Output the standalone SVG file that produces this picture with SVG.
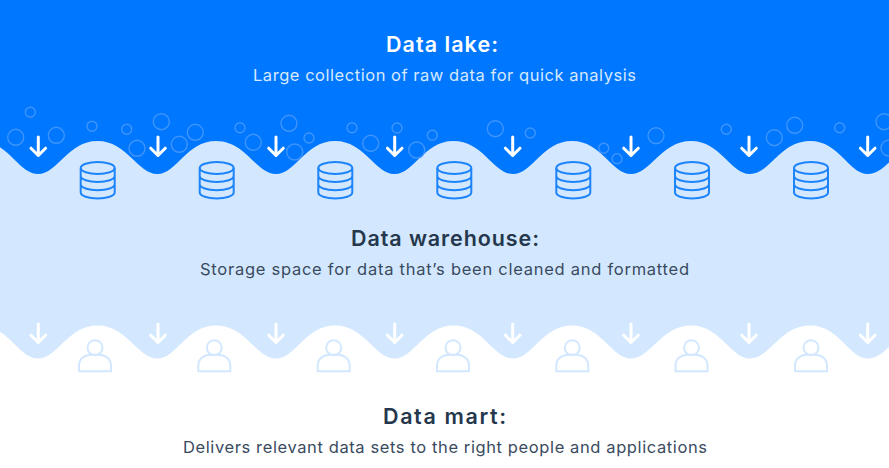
<svg xmlns="http://www.w3.org/2000/svg" xmlns:xlink="http://www.w3.org/1999/xlink" width="889" height="468" viewBox="0 0 889 468">
<style>
.t{font-family:"Inter","Liberation Sans",sans-serif;text-anchor:middle}
.h{font-size:21.500px;font-weight:600}
.s{font-size:16.500px;font-weight:400}
.d{fill:#25374c}
.ds{fill:#3a4b5f}
.b{fill:none;stroke:#3f95fb;stroke-width:1.4}
.a{fill:none;stroke:#fff;stroke-width:3;stroke-linecap:round;stroke-linejoin:round}
.c{fill:none;stroke:#1e84fb;stroke-width:2}
.p{fill:none;stroke:#d3e8ff;stroke-width:2}
</style>
<defs>
<path id="wave" d="M-21 -190V141C9 141 18 174 38 174C58 174 67.500 141 97.500 141C127.500 141 137 174 157.500 174C177 174 186 141 216 141C246 141 256 174 276 174C296 174 305 141 335 141C365 141 374.500 174 394.500 174C414.500 174 423.500 141 453.500 141C483.500 141 493 174 513 174C533 174 542 141 572 141C602 141 611 174 631 174C651 174 661 141 691 141C721 141 730 174 750 174C770 174 780 141 810 141C840 141 848 174 868 174C888 174 898 141 928 141V-190Z"/>
<path id="arrow" class="a" d="M0 0V18.500M-7.300 11.200L0 18.500L7.300 11.200"/>
<g id="cyl" class="c"><ellipse cx="0" cy="7" rx="17" ry="6"/><path d="M-17 7V31.500C-17 34.800 -9.500 37.500 0 37.500C9.500 37.500 17 34.800 17 31.500V7M-17 15C-17 18.300 -9.500 21 0 21C9.500 21 17 18.300 17 15M-17 23.200C-17 26.500 -9.500 29.200 0 29.200C9.500 29.200 17 26.500 17 23.200"/></g>
<g id="person" class="p"><circle cx="0" cy="0" r="7.500"/><path d="M-16 23.500V18C-16 11 -10 7 -4 7H4C10 7 16 11 16 18V23.500Z"/></g>
</defs>
<rect id="bg-white" width="889" height="468" fill="#fff"/>
<use id="wave-lower" href="#wave" xlink:href="#wave" transform="translate(0,184.500)" fill="#d3e8ff"/>
<use id="wave-upper" href="#wave" xlink:href="#wave" fill="#0077ff"/>
<g id="bubbles" class="b">
<circle cx="30.300" cy="112.300" r="5"/><circle cx="15.700" cy="137.300" r="8"/><circle cx="56.300" cy="135.300" r="8"/><circle cx="92" cy="126.300" r="5"/><circle cx="126.700" cy="129.300" r="5"/><circle cx="161.300" cy="121.700" r="8"/><circle cx="195.300" cy="132.300" r="8"/><circle cx="179.300" cy="144.300" r="8"/><circle cx="137" cy="148.300" r="8"/><circle cx="240" cy="127.700" r="5"/><circle cx="253.300" cy="142.300" r="8"/><circle cx="289" cy="123.300" r="8"/><circle cx="294.700" cy="152" r="8"/><circle cx="309" cy="138" r="5"/><circle cx="352" cy="127.700" r="5"/><circle cx="370.700" cy="143.300" r="8"/><circle cx="397" cy="128" r="5"/><circle cx="416.700" cy="150" r="8"/><circle cx="432.300" cy="135.300" r="5"/><circle cx="495.300" cy="128.700" r="8"/><circle cx="530.300" cy="133" r="5"/><circle cx="603.700" cy="148.300" r="5"/><circle cx="617" cy="158.700" r="5"/><circle cx="656" cy="135.700" r="8"/><circle cx="726.300" cy="129.300" r="5"/><circle cx="774.300" cy="137.700" r="8"/><circle cx="794.700" cy="125.300" r="8"/><circle cx="839.700" cy="127.700" r="5"/><circle cx="884" cy="121.700" r="8"/><circle cx="889" cy="148" r="8"/>
</g>
<g id="arrows-upper">
<use href="#arrow" xlink:href="#arrow" x="38.300" y="137"/><use href="#arrow" xlink:href="#arrow" x="158" y="137"/><use href="#arrow" xlink:href="#arrow" x="276" y="137"/><use href="#arrow" xlink:href="#arrow" x="394.700" y="137"/><use href="#arrow" xlink:href="#arrow" x="512.700" y="137"/><use href="#arrow" xlink:href="#arrow" x="631" y="137"/><use href="#arrow" xlink:href="#arrow" x="749" y="137"/><use href="#arrow" xlink:href="#arrow" x="867.700" y="137"/>
</g>
<g id="cylinders">
<use href="#cyl" xlink:href="#cyl" x="97.700" y="161"/><use href="#cyl" xlink:href="#cyl" x="216.700" y="161"/><use href="#cyl" xlink:href="#cyl" x="335.300" y="161"/><use href="#cyl" xlink:href="#cyl" x="454.300" y="161"/><use href="#cyl" xlink:href="#cyl" x="573.300" y="161"/><use href="#cyl" xlink:href="#cyl" x="692" y="161"/><use href="#cyl" xlink:href="#cyl" x="811" y="161"/>
</g>
<g id="arrows-lower">
<use href="#arrow" xlink:href="#arrow" x="38.300" y="324"/><use href="#arrow" xlink:href="#arrow" x="158" y="324"/><use href="#arrow" xlink:href="#arrow" x="276" y="324"/><use href="#arrow" xlink:href="#arrow" x="394.700" y="324"/><use href="#arrow" xlink:href="#arrow" x="512.700" y="324"/><use href="#arrow" xlink:href="#arrow" x="631" y="324"/><use href="#arrow" xlink:href="#arrow" x="749" y="324"/><use href="#arrow" xlink:href="#arrow" x="867.700" y="324"/>
</g>
<g id="people">
<use href="#person" xlink:href="#person" x="95" y="347.700"/><use href="#person" xlink:href="#person" x="214.300" y="347.700"/><use href="#person" xlink:href="#person" x="333.700" y="347.700"/><use href="#person" xlink:href="#person" x="453" y="347.700"/><use href="#person" xlink:href="#person" x="572.300" y="347.700"/><use href="#person" xlink:href="#person" x="691.500" y="347.700"/><use href="#person" xlink:href="#person" x="811" y="347.700"/>
</g>
<g id="data-lake">
<text class="t h" x="442" y="51.500" fill="#fff" textLength="112">Data lake:</text>
<text class="t s" x="444.500" y="80.500" fill="#d6e9ff" textLength="383">Large collection of raw data for quick analysis</text>
</g>
<g id="data-warehouse">
<text class="t h d" x="445" y="245.500" textLength="188">Data warehouse:</text>
<text class="t s ds" x="444.500" y="275" textLength="489">Storage space for data that’s been cleaned and formatted</text>
</g>
<g id="data-mart">
<text class="t h d" x="444.500" y="424" textLength="123">Data mart:</text>
<text class="t s ds" x="445" y="453" textLength="524">Delivers relevant data sets to the right people and applications</text>
</g>
</svg>
